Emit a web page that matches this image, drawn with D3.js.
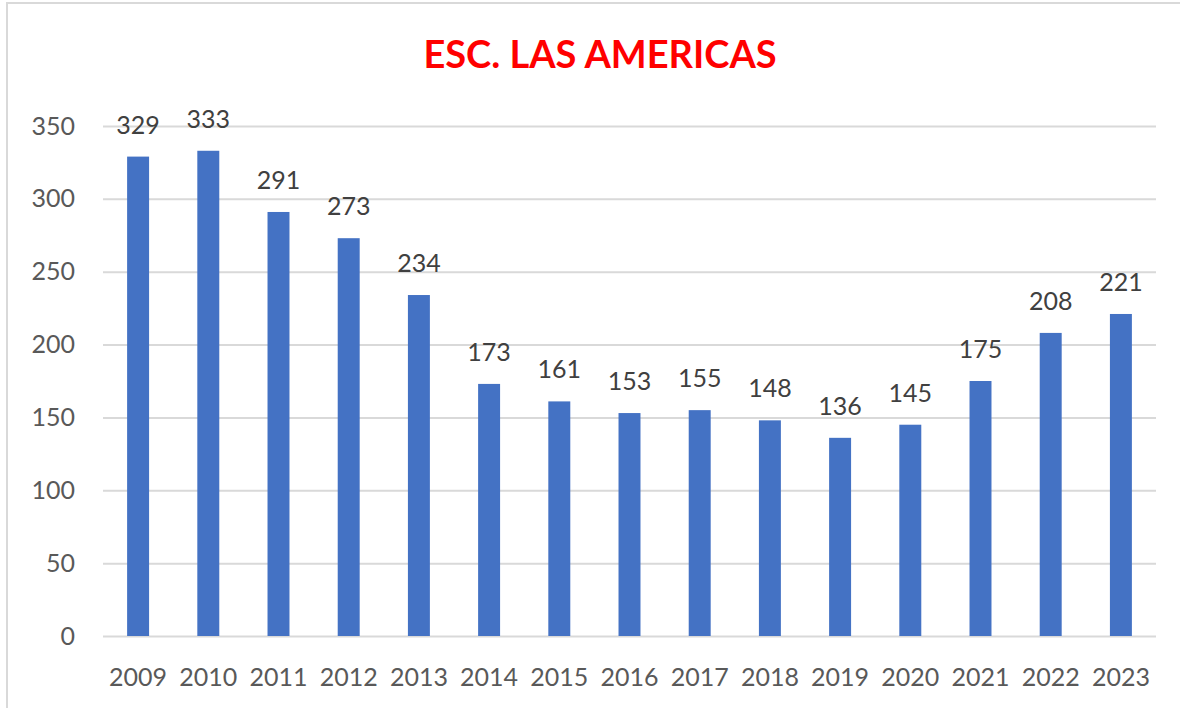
<!DOCTYPE html>
<html>
<head>
<meta charset="utf-8">
<script src="https://cdn.jsdelivr.net/npm/d3@7"></script>
<style>
  body { margin: 0; background: #fff; }
  text { font-family: Lato, "Open Sans", sans-serif; }
</style>
</head>
<body>
<div class="chart"></div>
<script>
var years = ["2009", "2010", "2011", "2012", "2013", "2014", "2015", "2016", "2017", "2018", "2019", "2020", "2021", "2022", "2023"];
var students = [329, 333, 291, 273, 234, 173, 161, 153, 155, 148, 136, 145, 175, 208, 221];
var yTicks = [0, 50, 100, 150, 200, 250, 300, 350];
var title = "ESC. LAS AMERICAS";

var W = 1180, H = 708;
var margin = { top: 126, right: 24, bottom: 72, left: 103 };
var width = W - margin.left - margin.right;
var height = H - margin.top - margin.bottom;

var svg = d3.select(".chart").append("svg")
  .attr("width", W)
  .attr("height", H);

// outer frame (only left and top edges visible in the crop)
svg.append("path")
  .attr("d", "M7,708 V3 H1180")
  .attr("fill", "none")
  .attr("stroke", "#d9d9d9")
  .attr("stroke-width", 2);

svg.append("text")
  .attr("x", 600)
  .attr("y", 68)
  .attr("text-anchor", "middle")
  .attr("fill", "#ff0000")
  .attr("font-weight", "bold")
  .attr("font-size", 38)
  .text(title);

var chart = svg.append("g")
  .attr("transform", `translate(${margin.left},${margin.top})`);

var x = d3.scaleBand()
  .domain(years)
  .range([0, width])
  .paddingInner(0.687)
  .paddingOuter(0.3435);

var y = d3.scaleLinear().domain([0, 350]).range([height, 0]);

// gridlines
chart.append("g")
  .attr("class", "grid")
  .call(d3.axisLeft(y).tickValues(yTicks).tickSize(-width).tickFormat(""))
  .call(g => g.select(".domain").remove())
  .call(g => g.selectAll("line").attr("stroke", "#d9d9d9").attr("stroke-width", 2));

// y axis labels
chart.append("g")
  .attr("class", "y axis")
  .call(d3.axisLeft(y).tickValues(yTicks).tickSize(0).tickPadding(28))
  .call(g => g.select(".domain").remove())
  .call(g => g.selectAll("text").attr("fill", "#595959").attr("font-size", 25));

// x axis labels
chart.append("g")
  .attr("class", "x axis")
  .attr("transform", `translate(0,${height})`)
  .call(d3.axisBottom(x).tickSize(0).tickPadding(32))
  .call(g => g.select(".domain").remove())
  .call(g => g.selectAll("text").attr("fill", "#595959").attr("font-size", 25));

var data = years.map((d, i) => ({ year: d, value: students[i] }));

chart.selectAll(".bar")
  .data(data)
  .enter()
  .append("rect")
  .attr("class", "bar")
  .attr("x", d => x(d.year))
  .attr("width", x.bandwidth())
  .attr("y", d => y(d.value))
  .attr("height", d => height - y(d.value))
  .attr("fill", "#4472c4");

chart.selectAll(".label")
  .data(data)
  .enter()
  .append("text")
  .attr("class", "label")
  .attr("x", d => x(d.year) + x.bandwidth() / 2)
  .attr("y", d => y(d.value) - 23)
  .attr("text-anchor", "middle")
  .attr("fill", "#404040")
  .attr("font-size", 25)
  .text(d => d.value);
</script>
</body>
</html>
